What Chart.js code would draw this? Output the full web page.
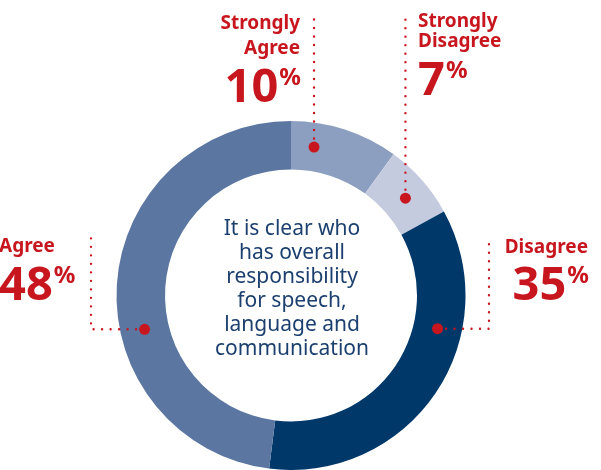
<!DOCTYPE html>
<html>
<head>
<meta charset="utf-8">
<script src="https://cdn.jsdelivr.net/npm/chart.js@4"></script>
<style>
  html, body { margin: 0; padding: 0; background: #fff; }
  #wrap { width: 601px; height: 470px; position: relative; }
</style>
</head>
<body>
<div id="wrap"><canvas id="main-chart"></canvas></div>
<script>
const categories = ['Strongly Agree', 'Strongly Disagree', 'Disagree', 'Agree'];
const shares     = [10, 7, 35, 48];
const centreText = ['It is clear who', 'has overall', 'responsibility', 'for speech,', 'language and', 'communication'];

const PAL  = ['#8c9fc0', '#c4cbdf', '#00386a', '#5b76a1'];
const RED  = '#c8161e';
const NAVY = '#1b3f6e';
const FONT = '"Noto Sans", sans-serif';

// where each callout sits: label block, and where its dot lands along the arc (0..1)
const callouts = [
  { lines: ['Strongly', 'Agree'],    x: 300, align: 'right', base: [29, 54], numBase: 102, at: 0.245, leader: 'up',    top: 14 },
  { lines: ['Strongly', 'Disagree'], x: 418, align: 'left',  base: [27, 47], numBase: 95,  at: 0.54,  leader: 'up',    top: 13 },
  { lines: ['Disagree'],             x: 588, align: 'right', base: [253],    numBase: 300, at: 0.33,  leader: 'side',  side: 489, top: 237 },
  { lines: ['Agree'],                x: -1,  align: 'left',  base: [252],    numBase: 300, at: 0.404, leader: 'side',  side: 91,  top: 237 },
];

const calloutPlugin = {
  id: 'callouts',
  afterDraw(c) {
    const ctx = c.ctx;
    const meta = c.getDatasetMeta(0);
    ctx.save();

    // centre caption
    const cx = meta.data[0].x, cy = meta.data[0].y;
    ctx.fillStyle = NAVY;
    ctx.font = `400 21px ${FONT}`;
    ctx.textAlign = 'center';
    ctx.textBaseline = 'alphabetic';
    centreText.forEach((t, i) => ctx.fillText(t, cx + 1, 235 + i * 24));

    meta.data.forEach((arc, i) => {
      const o = callouts[i];
      const p = arc.getProps(['x', 'y', 'startAngle', 'endAngle', 'innerRadius', 'outerRadius'], true);
      const a = p.startAngle + (p.endAngle - p.startAngle) * o.at;
      const r = (p.innerRadius + p.outerRadius) / 2;
      const dx = p.x + Math.cos(a) * r, dy = p.y + Math.sin(a) * r;

      // dotted leader
      ctx.strokeStyle = RED;
      ctx.lineWidth = 2.4;
      ctx.lineCap = 'round';
      ctx.setLineDash([0, 8.5]);
      ctx.beginPath();
      if (o.leader === 'up') {
        ctx.moveTo(dx, dy);
        ctx.lineTo(dx, o.top);
      } else {
        ctx.moveTo(dx, dy);
        ctx.lineTo(o.side, dy);
        ctx.lineTo(o.side, o.top);
      }
      ctx.stroke();
      ctx.setLineDash([]);

      ctx.fillStyle = RED;
      ctx.beginPath();
      ctx.arc(dx, dy, 5.5, 0, Math.PI * 2);
      ctx.fill();

      // label text
      ctx.textAlign = o.align;
      ctx.font = `700 19px ${FONT}`;
      o.lines.forEach((t, j) => ctx.fillText(t, o.x, o.base[j]));

      const num = String(shares[i]);
      ctx.font = `700 24px ${FONT}`;
      const pw = ctx.measureText('%').width;
      ctx.font = `700 47px ${FONT}`;
      const nw = ctx.measureText(num).width;
      const left = o.align === 'right' ? o.x - pw - nw : o.x;
      ctx.textAlign = 'left';
      ctx.fillText(num, left, o.numBase);
      ctx.font = `700 24px ${FONT}`;
      ctx.fillText('%', left + nw + 1, o.numBase - 17);
    });
    ctx.restore();
  }
};

new Chart(document.getElementById('main-chart'), {
  type: 'doughnut',
  data: {
    labels: categories,
    datasets: [{
      data: shares,
      backgroundColor: PAL,
      borderWidth: 0,
    }]
  },
  options: {
    responsive: true, maintainAspectRatio: false,
    animation: false,
    cutout: '72.2%',
    rotation: 0,
    layout: { padding: { top: 121, bottom: 0, left: 116.5, right: 135.5 } },
    plugins: {
      legend: { display: false },
      tooltip: { enabled: false }
    }
  },
  plugins: [calloutPlugin]
});
</script>
</body>
</html>
